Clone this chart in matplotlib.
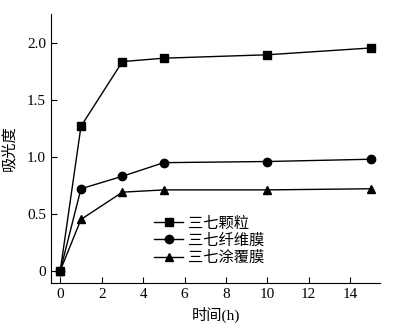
import matplotlib
matplotlib.use("Agg")
from matplotlib import pyplot as plt

plt.rcParams['font.family'] = ['Liberation Serif', 'Noto Sans CJK SC']
plt.rcParams['axes.unicode_minus'] = False

# data
time_h = [0, 1, 3, 5, 10, 15]
granule = [0, 1.27, 1.84, 1.87, 1.90, 1.96]
fiber = [0, 0.72, 0.83, 0.95, 0.96, 0.98]
coating = [0, 0.45, 0.69, 0.71, 0.71, 0.72]
labels = ['三七颗粒', '三七纤维膜', '三七涂覆膜']
xticks = [0, 2, 4, 6, 8, 10, 12, 14]
yticks = [0, 0.5, 1.0, 1.5, 2.0]
yticklabels = ['0', '0.5', '1.0', '1.5', '2.0']

fig = plt.figure(figsize=(4.11, 3.31), dpi=100)
ax = fig.add_axes([0.124, 0.145, 0.801, 0.813])

ax.plot(time_h, granule, 'k-s', lw=1, ms=5.5, label=labels[0])
ax.plot(time_h, fiber, 'k-o', lw=1, ms=6, label=labels[1])
ax.plot(time_h, coating, 'k-^', lw=1, ms=6, label=labels[2])

ax.set_xlim(-0.45, 15.45)
ax.set_ylim(-0.11, 2.26)
ax.set_xticks(xticks)
ax.set_yticks(yticks)
ax.set_yticklabels(yticklabels)
ax.tick_params(direction='in', labelsize=11, length=4, width=0.8)
for s in ['top', 'right']:
    ax.spines[s].set_visible(False)

ax.set_xlabel('时间(h)', fontsize=11, labelpad=4)
ax.set_ylabel('吸光度', fontsize=11, labelpad=8)

ax.legend(loc='upper left', bbox_to_anchor=(0.295, 0.27), frameon=False,
          fontsize=11, handlelength=1.9, handletextpad=0.3,
          labelspacing=0.2, borderaxespad=0)

fig.savefig('out.png', dpi=100)
